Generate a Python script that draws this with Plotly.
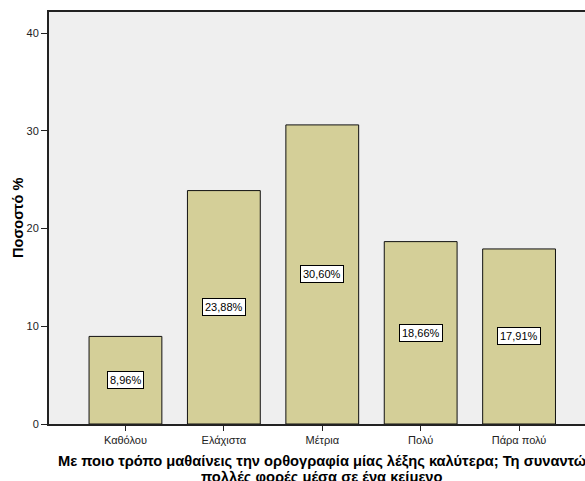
import plotly.graph_objects as go

# Response categories and percentage of respondents
categories = ["Καθόλου", "Ελάχιστα", "Μέτρια", "Πολύ", "Πάρα πολύ"]
percentages = [8.96, 23.88, 30.60, 18.66, 17.91]
y_ticks = [0, 10, 20, 30, 40]

x_title_line1 = "Με ποιο τρόπο μαθαίνεις την ορθογραφία μίας λέξης καλύτερα; Τη συναντώ"
x_title_line2 = "πολλές φορές μέσα σε ένα κείμενο"
y_title = "Ποσοστό %"

FONT = "Liberation Sans, Arial, sans-serif"
x_pos = list(range(len(categories)))

fig = go.Figure()
fig.add_trace(go.Bar(
    x=x_pos,
    y=percentages,
    width=0.74,
    marker=dict(color="#d4cf98", line=dict(color="#111111", width=1)),
    hoverinfo="skip",
))

# Boxed percentage labels at mid-height of each bar
for xi, v in zip(x_pos, percentages):
    fig.add_annotation(
        x=xi, y=v / 2, xref="x", yref="y",
        text=f"{v:.2f}%".replace(".", ","),
        showarrow=False,
        font=dict(family=FONT, size=11, color="#000000"),
        bgcolor="#ffffff", bordercolor="#000000", borderwidth=1, borderpad=2,
    )

# Two-line category axis title centred under the middle category
for txt, yp in [(x_title_line1, -0.0895), (x_title_line2, -0.128)]:
    fig.add_annotation(
        x=2, y=yp, xref="x", yref="paper",
        text=f"<b>{txt}</b>",
        showarrow=False, yanchor="middle",
        font=dict(family=FONT, size=14.7, color="#000000"),
    )

# Rotated value-axis title
fig.add_annotation(
    x=-0.058, y=0.5, xref="paper", yref="paper",
    text=f"<b>{y_title}</b>", textangle=-90,
    showarrow=False, xanchor="center", yanchor="middle",
    font=dict(family=FONT, size=14.5, color="#000000"),
)

fig.update_layout(
    width=585, height=481,
    margin=dict(l=49, r=0, t=12, b=57),
    paper_bgcolor="#ffffff",
    plot_bgcolor="#efefef",
    showlegend=False,
    font=dict(family=FONT, size=11, color="#222222"),
    xaxis=dict(
        range=[-0.777, 4.67],
        tickvals=x_pos, ticktext=categories,
        ticks="outside", ticklen=5, tickcolor="#222222", tickwidth=1,
        showline=True, linecolor="#222222", linewidth=2, mirror=True,
        showgrid=False, zeroline=False,
        tickfont=dict(family=FONT, size=11, color="#222222"),
    ),
    yaxis=dict(
        range=[0, 42.15],
        tickvals=y_ticks,
        ticks="outside", ticklen=6, tickcolor="#222222", tickwidth=1,
        showline=True, linecolor="#222222", linewidth=2,
        showgrid=False, zeroline=False,
        tickfont=dict(family=FONT, size=11, color="#222222"),
    ),
)

fig.write_html("out.html")
